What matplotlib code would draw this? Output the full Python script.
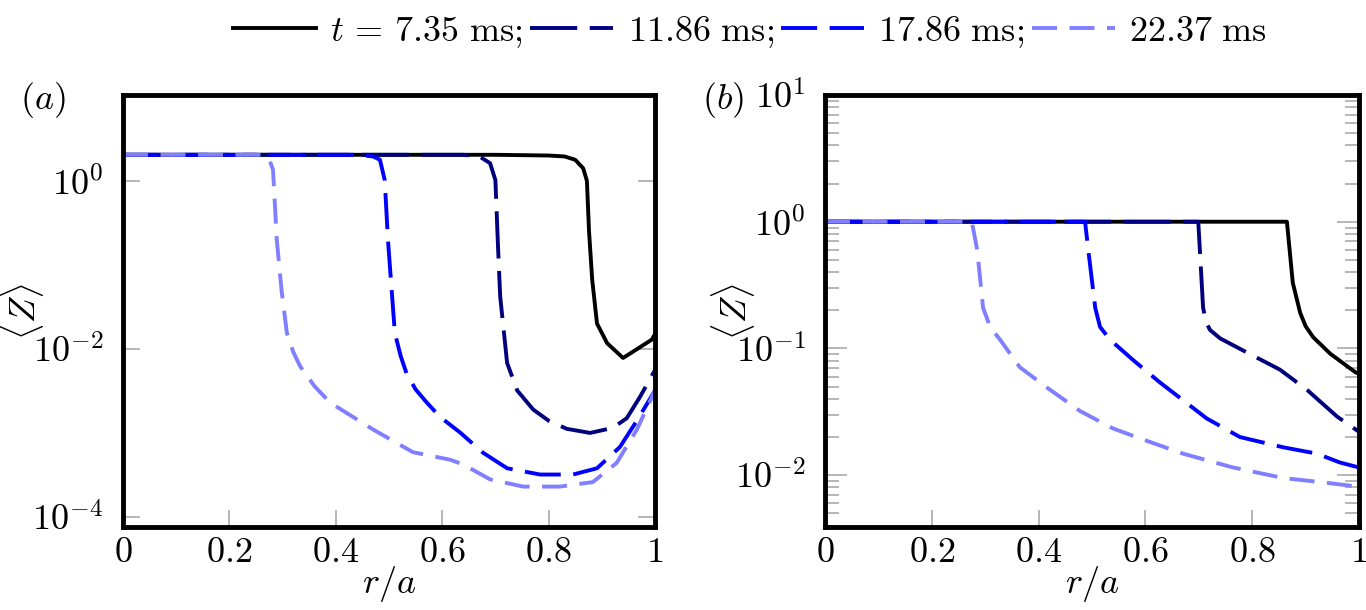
import matplotlib
matplotlib.use('Agg')
import matplotlib.pyplot as plt
from matplotlib.ticker import LogLocator, NullFormatter, FixedLocator

plt.rcParams['mathtext.fontset'] = 'cm'
plt.rcParams['font.family'] = 'serif'
plt.rcParams['font.serif'] = ['DejaVu Serif']
plt.rcParams['lines.scale_dashes'] = False

# ---- data ----
# panel (a)
r_a_black = [0.0, 0.70, 0.80, 0.83, 0.85, 0.865, 0.872, 0.876, 0.882, 0.891, 0.91, 0.94, 0.972, 0.994, 1.0]
z_a_black = [2.04, 2.04, 2.0, 1.95, 1.78, 1.41, 1.0, 0.25, 0.066, 0.020, 0.0117, 0.0078, 0.0105, 0.0129, 0.015]

r_a_navy = [0.0, 0.64, 0.67, 0.69, 0.70, 0.705, 0.709, 0.722, 0.741, 0.771, 0.80, 0.834, 0.878, 0.921, 0.947, 0.972, 1.0]
z_a_navy = [2.04, 2.04, 1.95, 1.62, 1.02, 0.16, 0.042, 0.0068, 0.0032, 0.0019, 0.0014, 0.00112, 0.001, 0.00115, 0.0015, 0.0027, 0.0056]

r_a_blue = [0.0, 0.44, 0.47, 0.483, 0.492, 0.498, 0.505, 0.511, 0.522, 0.533, 0.55, 0.571, 0.596, 0.633, 0.677, 0.722, 0.784, 0.846, 0.891, 0.934, 0.966, 1.0]
z_a_blue = [2.04, 2.04, 1.95, 1.78, 1.02, 0.2, 0.05, 0.0155, 0.0082, 0.0051, 0.0033, 0.0023, 0.00155, 0.00102, 0.00058, 0.00038, 0.00032, 0.00032, 0.00038, 0.00068, 0.0014, 0.0032]

r_a_light = [0.0, 0.26, 0.275, 0.282, 0.289, 0.298, 0.308, 0.32, 0.333, 0.36, 0.389, 0.47, 0.545, 0.615, 0.64, 0.69, 0.752, 0.821, 0.883, 0.928, 0.966, 1.0]
z_a_light = [2.04, 2.04, 1.8, 1.35, 0.2, 0.05, 0.0155, 0.0092, 0.0062, 0.0036, 0.0023, 0.0011, 0.00059, 0.00048, 0.00042, 0.00028, 0.00023, 0.00023, 0.00026, 0.00044, 0.0011, 0.0032]

# panel (b)
r_b_black = [0.0, 0.865, 0.876, 0.89, 0.90, 0.914, 0.946, 0.993, 1.0]
z_b_black = [1.0, 1.0, 0.33, 0.19, 0.15, 0.123, 0.091, 0.065, 0.063]

r_b_navy = [0.0, 0.699, 0.702, 0.708, 0.714, 0.721, 0.740, 0.790, 0.852, 0.903, 0.959, 1.0]
z_b_navy = [1.0, 1.0, 0.6, 0.21, 0.16, 0.14, 0.12, 0.093, 0.068, 0.047, 0.029, 0.022]

r_b_blue = [0.0, 0.487, 0.493, 0.506, 0.515, 0.534, 0.577, 0.627, 0.715, 0.777, 0.858, 0.921, 0.964, 1.0]
z_b_blue = [1.0, 1.0, 0.6, 0.21, 0.148, 0.117, 0.081, 0.054, 0.028, 0.020, 0.0166, 0.0148, 0.0126, 0.0115]

r_b_light = [0.0, 0.275, 0.285, 0.296, 0.309, 0.328, 0.365, 0.416, 0.478, 0.539, 0.59, 0.67, 0.764, 0.858, 0.94, 1.0]
z_b_light = [1.0, 1.0, 0.6, 0.21, 0.148, 0.117, 0.071, 0.049, 0.032, 0.0234, 0.0195, 0.0148, 0.0115, 0.0095, 0.0087, 0.0081]

labels = ['$t\\,=\\,7.35\\ \\mathrm{ms;}$', '$11.86\\ \\mathrm{ms;}$', '$17.86\\ \\mathrm{ms;}$', '$22.37\\ \\mathrm{ms}$']
colors = ['black', '#00007f', '#0000ff', '#7f7fff']
dashes = [None, (34, 9), (26, 9), (18, 9)]

xticks = [0, 0.2, 0.4, 0.6, 0.8, 1]
xticklabels = ['$0$', '$0.2$', '$0.4$', '$0.6$', '$0.8$', '$1$']

fig = plt.figure(figsize=(13.66, 6.10), dpi=100)
ax1 = fig.add_axes([123/1366, 83/610, 532/1366, 432/610])
ax2 = fig.add_axes([825/1366, 83/610, 534/1366, 432/610])

fs = 26
lw = 2.8

def draw(ax, data):
    lines = []
    for (r, z), c, d in zip(data, colors, dashes):
        if d is None:
            ln, = ax.plot(r, z, color=c, lw=lw, solid_joinstyle='round')
        else:
            ln, = ax.plot(r, z, color=c, lw=lw, dashes=d)
        lines.append(ln)
    ax.set_yscale('log')
    ax.set_xlim(0, 1)
    ax.set_xticks(xticks)
    ax.set_xticklabels(xticklabels, fontsize=fs)
    for s in ax.spines.values():
        s.set_linewidth(3.5)
    ax.tick_params(axis='both', which='both', direction='in', color='#aaaaaa',
                   left=True, right=True, top=False, bottom=True, width=1.2)
    ax.tick_params(axis='x', length=12, pad=6)
    ax.set_xlabel('$r/a$', fontsize=fs, labelpad=-4)
    return lines

lines = draw(ax1, [(r_a_black, z_a_black), (r_a_navy, z_a_navy), (r_a_blue, z_a_blue), (r_a_light, z_a_light)])
ax1.set_ylim(7.6e-5, 10.5)
ax1.yaxis.set_major_locator(FixedLocator([1e-4, 1e-2, 1]))
ax1.yaxis.set_minor_locator(FixedLocator([]))
ax1.set_yticklabels(['$10^{-4}$', '$10^{-2}$', '$10^{0}$'], fontsize=fs)
ax1.tick_params(axis='y', length=12, pad=14)
ax1.set_ylabel('$\\langle Z\\rangle$', fontsize=fs, labelpad=-10)

draw(ax2, [(r_b_black, z_b_black), (r_b_navy, z_b_navy), (r_b_blue, z_b_blue), (r_b_light, z_b_light)])
ax2.set_ylim(3.9e-3, 10)
ax2.yaxis.set_major_locator(FixedLocator([1e-2, 1e-1, 1, 10]))
ax2.yaxis.set_minor_locator(LogLocator(base=10, subs=range(2, 10)))
ax2.yaxis.set_minor_formatter(NullFormatter())
ax2.set_yticklabels(['$10^{-2}$', '$10^{-1}$', '$10^{0}$', '$10^{1}$'], fontsize=fs)
ax2.tick_params(axis='y', which='major', length=16, pad=14)
ax2.tick_params(axis='y', which='minor', length=10)
ax2.set_ylabel('$\\langle Z\\rangle$', fontsize=fs, labelpad=-16)

fig.text(43/1366, 1 - 100/610, '$(a)$', fontsize=fs, ha='center', va='center')
fig.text(723/1366, 1 - 100/610, '$(b)$', fontsize=fs, ha='center', va='center')

fig.legend(lines, labels, loc='center', bbox_to_anchor=(750/1366, 1 - 32/610), ncol=4,
           frameon=False, fontsize=fs, handlelength=2.3, handletextpad=0.4, columnspacing=0.2)

fig.savefig('out.png', dpi=100)
